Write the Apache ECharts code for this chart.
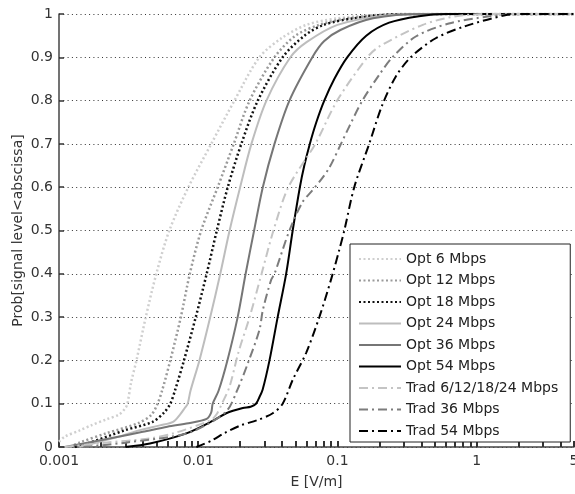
<!DOCTYPE html>
<html>
<head>
<meta charset="utf-8">
<script src="https://cdn.jsdelivr.net/npm/echarts@6/dist/echarts.min.js"></script>
<style>
  html, body { margin: 0; padding: 0; background: #fff; }
  #main { width: 575px; height: 494px; }
</style>
</head>
<body>
<div id="main"></div>
<script>
// CDF curves, [E in V/m, probability]
const opt6 = [[0.001,0.012],[0.0011,0.024],[0.0014,0.038],[0.0017,0.05],[0.0022,0.064],[0.0027,0.075],[0.003,0.09],[0.0031,0.1],[0.0033,0.15],[0.0036,0.2],[0.0042,0.3],[0.005,0.4],[0.0062,0.5],[0.0085,0.6],[0.0124,0.7],[0.0182,0.8],[0.0275,0.9],[0.04,0.945],[0.06,0.975],[0.1,0.99],[0.2,0.998],[0.5,1],[5,1]];
const opt12 = [[0.0012,0],[0.0014,0.01],[0.0022,0.032],[0.0037,0.055],[0.0046,0.074],[0.0051,0.1],[0.0055,0.13],[0.0063,0.2],[0.0075,0.3],[0.0087,0.4],[0.0105,0.5],[0.0138,0.6],[0.018,0.7],[0.0234,0.8],[0.0353,0.9],[0.05,0.95],[0.074,0.975],[0.12,0.99],[0.3,1],[5,1]];
const opt18 = [[0.0013,0],[0.0015,0.005],[0.003,0.039],[0.0047,0.058],[0.0057,0.08],[0.0063,0.1],[0.0068,0.13],[0.0079,0.2],[0.0096,0.3],[0.0115,0.4],[0.0136,0.5],[0.0163,0.6],[0.0204,0.7],[0.0268,0.8],[0.0404,0.9],[0.058,0.95],[0.08,0.975],[0.13,0.99],[0.3,1],[5,1]];
const opt24 = [[0.0014,0],[0.0016,0.005],[0.0027,0.024],[0.0038,0.039],[0.0053,0.05],[0.0066,0.058],[0.0074,0.075],[0.008,0.09],[0.0084,0.1],[0.0088,0.13],[0.0102,0.2],[0.0122,0.3],[0.0144,0.4],[0.0168,0.5],[0.02,0.6],[0.0241,0.7],[0.0309,0.8],[0.0459,0.9],[0.06,0.935],[0.1,0.975],[0.2,0.995],[0.4,1],[5,1]];
const opt36 = [[0.0011,0],[0.0015,0.008],[0.0025,0.022],[0.004,0.035],[0.006,0.047],[0.0085,0.055],[0.0115,0.065],[0.0124,0.08],[0.0127,0.1],[0.014,0.13],[0.0162,0.2],[0.0192,0.3],[0.0219,0.4],[0.0252,0.5],[0.0291,0.6],[0.0353,0.7],[0.0452,0.8],[0.066,0.9],[0.08,0.937],[0.105,0.963],[0.18,0.99],[0.4,1],[5,1]];
const opt54 = [[0.003,0],[0.0045,0.008],[0.0083,0.032],[0.013,0.062],[0.0159,0.078],[0.0209,0.09],[0.0238,0.093],[0.026,0.1],[0.0275,0.115],[0.029,0.132],[0.0325,0.2],[0.0372,0.3],[0.0428,0.4],[0.0477,0.5],[0.0537,0.6],[0.0578,0.65],[0.0633,0.7],[0.0705,0.75],[0.0804,0.8],[0.0949,0.85],[0.1175,0.9],[0.161,0.95],[0.235,0.98],[0.385,0.995],[0.6,1],[5,1]];
const trad24 = [[0.0011,0],[0.002,0.009],[0.0045,0.02],[0.0067,0.032],[0.0123,0.062],[0.0135,0.075],[0.0148,0.1],[0.0168,0.14],[0.0195,0.22],[0.0234,0.3],[0.0285,0.4],[0.0347,0.5],[0.0444,0.6],[0.0693,0.7],[0.0995,0.8],[0.164,0.9],[0.2,0.925],[0.41,0.975],[0.71,0.995],[1.2,1],[5,1]];
const trad36 = [[0.0015,0],[0.003,0.01],[0.008,0.03],[0.012,0.055],[0.0162,0.085],[0.019,0.13],[0.0227,0.193],[0.0275,0.27],[0.0291,0.316],[0.0334,0.386],[0.0353,0.4],[0.0452,0.5],[0.056,0.565],[0.0649,0.59],[0.0753,0.615],[0.0874,0.645],[0.106,0.7],[0.1215,0.74],[0.151,0.8],[0.2,0.86],[0.248,0.9],[0.365,0.948],[0.63,0.978],[1.2,0.994],[2,1],[5,1]];
const trad54 = [[0.0097,0],[0.0125,0.015],[0.0154,0.032],[0.0202,0.05],[0.0266,0.062],[0.0343,0.078],[0.0404,0.1],[0.0477,0.155],[0.0595,0.217],[0.0741,0.3],[0.0898,0.386],[0.103,0.455],[0.112,0.5],[0.132,0.6],[0.169,0.7],[0.21,0.79],[0.262,0.855],[0.336,0.9],[0.508,0.944],[0.83,0.972],[1.6,0.997],[2.2,1],[5,1]];

const seriesNames = ['Opt 6 Mbps', 'Opt 12 Mbps', 'Opt 18 Mbps', 'Opt 24 Mbps', 'Opt 36 Mbps', 'Opt 54 Mbps',
  'Trad 6/12/18/24 Mbps', 'Trad 36 Mbps', 'Trad 54 Mbps'];
const seriesData = [opt6, opt12, opt18, opt24, opt36, opt54, trad24, trad36, trad54];

const xTickLabels = [0.001, 0.01, 0.1, 1, 5];
const xMin = 0.001, xMax = 5;

// log ticks 1..9 per decade, as matlab draws them
const xTicks = [];
[0.001, 0.01, 0.1, 1].forEach(d => {
  for (let k = 1; k <= 9; k++) {
    const v = +(d * k).toPrecision(3);
    if (v <= xMax) xTicks.push(v);
  }
});

const DOT = [2, 2.5];
const DASHDOT = [9, 4, 2, 4];
const styles = [
  { color: '#cfcfcf', type: DOT, width: 2.5 },
  { color: '#9a9a9a', type: DOT, width: 2.5 },
  { color: '#111111', type: DOT, width: 2.5 },
  { color: '#bdbdbd', type: 'solid', width: 2 },
  { color: '#767676', type: 'solid', width: 2 },
  { color: '#000000', type: 'solid', width: 2 },
  { color: '#c4c4c4', type: DASHDOT, width: 2 },
  { color: '#7c7c7c', type: DASHDOT, width: 2 },
  { color: '#000000', type: DASHDOT, width: 2 }
];

const FONT = 'DejaVu Sans';

const chart = echarts.init(document.getElementById('main'), null, { renderer: 'canvas' });

const option = {
  animation: false,
  backgroundColor: '#fff',
  grid: { left: 59, right: 1, top: 14, bottom: 47, containLabel: false, outerBoundsMode: 'none' },
  legend: {
    orient: 'vertical',
    left: 350,
    top: 244,
    padding: [8, 12, 4, 8],
    itemWidth: 42,
    itemHeight: 14,
    itemGap: 7.5,
    backgroundColor: '#fff',
    borderColor: '#222',
    borderWidth: 1,
    borderRadius: 0,
    selectedMode: false,
    itemStyle: { opacity: 0 },
    textStyle: { fontFamily: FONT, fontSize: 14, color: '#222' },
    data: seriesNames
  },
  xAxis: {
    type: 'log',
    logBase: 10,
    min: xMin,
    max: xMax,
    name: 'E [V/m]',
    nameLocation: 'middle',
    nameGap: 28,
    nameMoveOverlap: false,
    nameTextStyle: { fontFamily: FONT, fontSize: 14, color: '#333' },
    axisLine: { lineStyle: { color: '#444', width: 1.5 } },
    axisTick: { show: true, inside: true, length: 6, customValues: xTicks, lineStyle: { color: '#333', width: 2 } },
    axisLabel: {
      customValues: xTickLabels,
      fontFamily: FONT, fontSize: 14, color: '#333', margin: 7,
      formatter: v => String(parseFloat(Number(v).toPrecision(6)))
    },
    splitLine: { show: false },
    minorTick: { show: false }
  },
  yAxis: {
    type: 'value',
    min: 0,
    max: 1,
    interval: 0.1,
    name: 'Prob[signal level<abscissa]',
    nameLocation: 'middle',
    nameGap: 34,
    nameMoveOverlap: false,
    nameTextStyle: { fontFamily: FONT, fontSize: 14, color: '#333' },
    axisLine: { show: true, lineStyle: { color: '#444', width: 1.5 } },
    axisTick: { show: true, inside: true, length: 5, lineStyle: { color: '#333', width: 1.5 } },
    axisLabel: { fontFamily: FONT, fontSize: 14, color: '#333', margin: 6 },
    splitLine: { show: true, lineStyle: { color: '#333', type: [1, 3.3], width: 1 } }
  },
  series: seriesNames.map((name, i) => ({
    name: name,
    type: 'line',
    data: seriesData[i],
    showSymbol: false,
    symbol: 'none',
    smooth: 0.3,
    lineStyle: styles[i],
    itemStyle: { color: styles[i].color },
    z: 2 + i
  }))
};

chart.setOption(option);
</script>
</body>
</html>
